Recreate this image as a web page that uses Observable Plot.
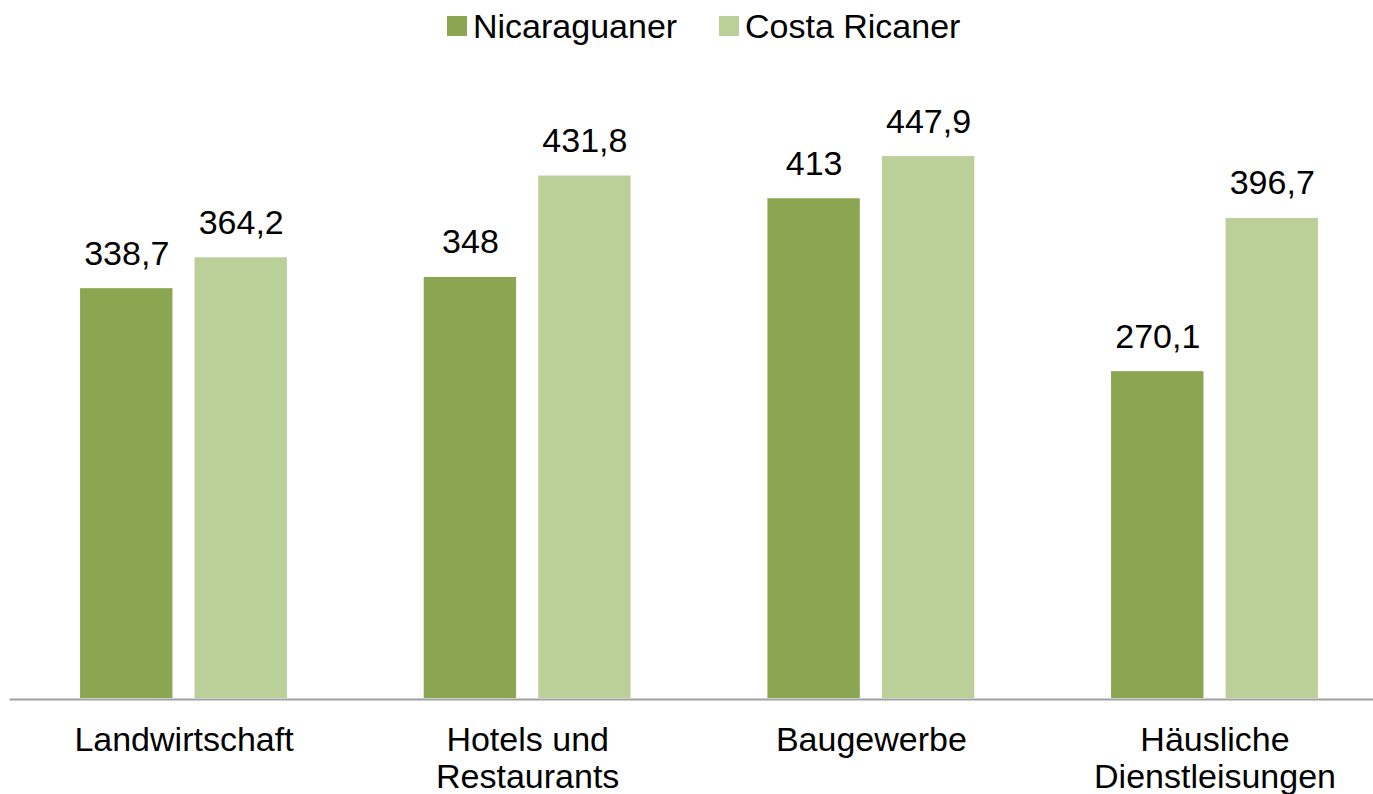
<!DOCTYPE html>
<html>
<head>
<meta charset="utf-8">
<script src="https://cdn.jsdelivr.net/npm/d3@7"></script>
<script src="https://cdn.jsdelivr.net/npm/@observablehq/plot@0.6"></script>
<style>
  body { margin: 0; background: #fff; font-family: "Liberation Sans", Arial, sans-serif; color: #000; }
  #legend { position: relative; height: 50px; width: 1373px; }
  .item { position: absolute; top: 0; height: 52px; display: flex; align-items: center; font-size: 34px; white-space: nowrap; }
  .sw { width: 20px; height: 20px; margin-right: 6px; }
</style>
</head>
<body>
<div id="legend"></div>
<div id="chart"></div>
<script>
const categories = ["Landwirtschaft", "Hotels und Restaurants", "Baugewerbe", "Häusliche Dienstleistungen"];
const categoryLabels = ["Landwirtschaft", "Hotels und\nRestaurants", "Baugewerbe", "Häusliche\nDienstleisungen"];
const series = ["Nicaraguaner", "Costa Ricaner"];
const nicaraguaner = [338.7, 348, 413, 270.1];
const costaRicaner = [364.2, 431.8, 447.9, 396.7];
const colors = ["#8ba650", "#bbd098"];

const data = categories.flatMap((c, i) => [
  {category: c, series: series[0], value: nicaraguaner[i]},
  {category: c, series: series[1], value: costaRicaner[i]}
]);
const fmt = v => String(v).replace(".", ",");

// legend (HTML, above the SVG)
const legendLeft = [447, 719];
const legend = document.getElementById("legend");
series.forEach((s, i) => {
  const it = document.createElement("div");
  it.className = "item";
  it.style.left = legendLeft[i] + "px";
  const sw = document.createElement("span");
  sw.className = "sw";
  sw.style.background = colors[i];
  it.appendChild(sw);
  it.appendChild(document.createTextNode(s));
  legend.appendChild(it);
});

const chart = Plot.plot({
  width: 1373,
  height: 744,
  marginTop: 43,
  marginBottom: 96,
  marginLeft: 10,
  marginRight: 0,
  style: {fontFamily: "'Liberation Sans', Arial, sans-serif", background: "#fff", color: "#000"},
  fx: {domain: categories, paddingInner: 0.398, paddingOuter: 0.182, align: 0.56, round: false, label: null},
  x: {domain: series, paddingInner: 0.193, paddingOuter: 0, round: false, axis: null},
  y: {domain: [0, 500], axis: null},
  color: {domain: series, range: colors},
  marks: [
    Plot.barY(data, {fx: "category", x: "series", y: "value", fill: "series"}),
    Plot.text(data, {fx: "category", x: "series", y: "value", text: d => fmt(d.value),
      lineAnchor: "bottom", dy: -24, fontSize: 34, fill: "#000"}),
    Plot.frame({anchor: "bottom", facet: "super", stroke: "#a0a0a0", strokeWidth: 2, dy: 1,
      insetLeft: -70, insetRight: -56}),
    Plot.axisFx({anchor: "bottom", tickSize: 0, tickPadding: 26, fontSize: 34, lineHeight: 1.09,
      tickFormat: c => categoryLabels[categories.indexOf(c)], label: null, fill: "#000"})
  ]
});
document.getElementById("chart").appendChild(chart);
</script>
</body>
</html>
